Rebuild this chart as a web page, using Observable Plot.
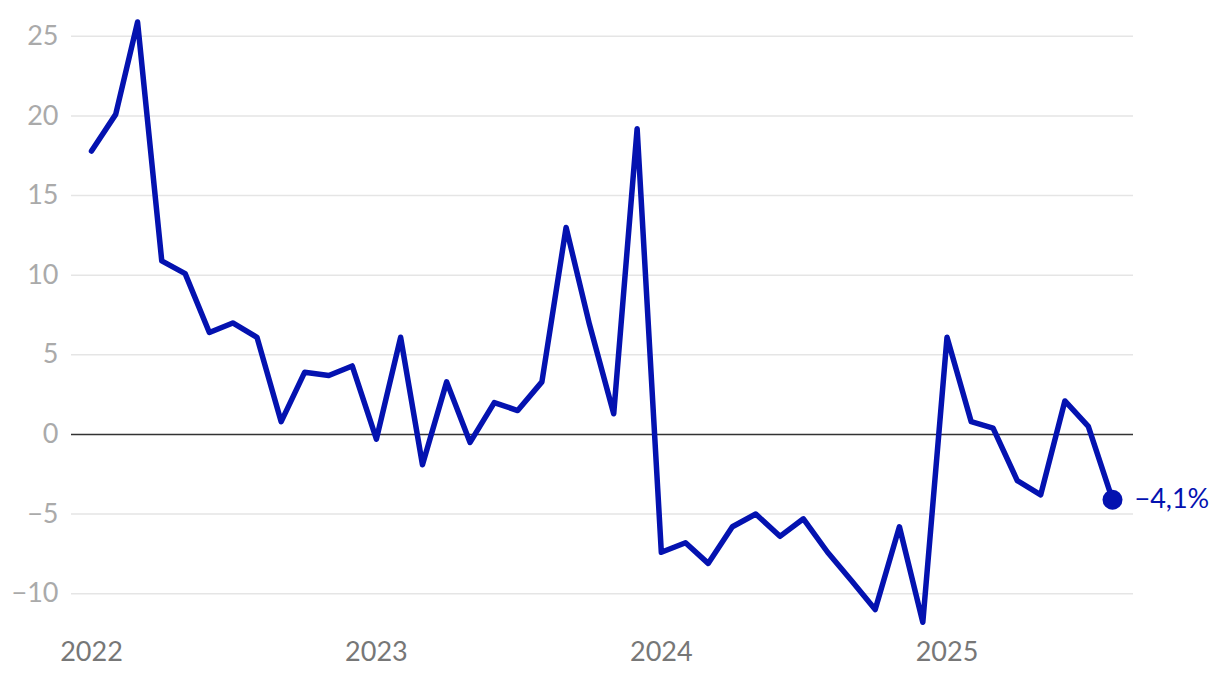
<!DOCTYPE html>
<html>
<head>
<meta charset="utf-8">
<script src="https://cdn.jsdelivr.net/npm/d3@7"></script>
<script src="https://cdn.jsdelivr.net/npm/@observablehq/plot@0.6"></script>
<style>
  html, body { margin: 0; padding: 0; background: #fff; }
  #chart svg { display: block; }
</style>
</head>
<body>
<div id="chart"></div>
<script>
// Monthly values, Jan 2022 .. Aug 2025
const startYear = 2022;
const startMonth = 0;
const values = [
  17.8, 20.1, 25.9, 10.9, 10.1, 6.4, 7.0, 6.1, 0.8, 3.9, 3.7, 4.3,
  -0.3, 6.1, -1.9, 3.3, -0.5, 2.0, 1.5, 3.3, 13.0, 6.9, 1.3, 19.2,
  -7.4, -6.8, -8.1, -5.8, -5.0, -6.4, -5.3, -7.4, -9.2, -11.0, -5.8, -11.8,
  6.1, 0.8, 0.4, -2.9, -3.8, 2.1, 0.5, -4.1
];
const yTicks = [-10, -5, 0, 5, 10, 15, 20, 25];
const xTickYears = [2022, 2023, 2024, 2025];
const lastLabel = "−4,1%";

const data = values.map((v, i) => ({date: new Date(Date.UTC(startYear, startMonth + i, 1)), value: v}));
const last = data[data.length - 1];
const xTicks = xTickYears.map(y => new Date(Date.UTC(y, 0, 1)));

const blue = "#0412b0";
const font = "Lato, 'Noto Sans', sans-serif";

const chart = Plot.plot({
  width: 1220,
  height: 678,
  marginLeft: 71,
  marginRight: 87,
  marginTop: 4,
  marginBottom: 53,
  style: {fontFamily: font, background: "#fff"},
  x: {type: "utc", domain: [data[0].date, last.date], range: [91, 1112]},
  y: {domain: [-12, 27]},
  marks: [
    Plot.ruleY(yTicks.filter(d => d !== 0), {stroke: "#e5e5e5", strokeWidth: 1.5}),
    Plot.ruleY([0], {stroke: "#333", strokeWidth: 1.5}),
    Plot.axisY(yTicks, {tickSize: 0, tickPadding: 13, fontSize: 27, fill: "#aaaaaa", label: null, tickFormat: d => d < 0 ? "−" + Math.abs(d) : String(d)}),
    Plot.axisX(xTicks, {tickSize: 0, tickPadding: 16, fontSize: 27, fill: "#777777", label: null, tickFormat: d => String(d.getUTCFullYear())}),
    Plot.line(data, {x: "date", y: "value", stroke: blue, strokeWidth: 5.5, strokeLinejoin: "round", strokeLinecap: "round"}),
    Plot.dot([last], {x: "date", y: "value", r: 10, fill: blue}),
    Plot.text([last], {x: "date", y: "value", text: () => lastLabel, dx: 22, textAnchor: "start", fontSize: 27, fill: blue})
  ]
});
document.getElementById("chart").appendChild(chart);
</script>
</body>
</html>
